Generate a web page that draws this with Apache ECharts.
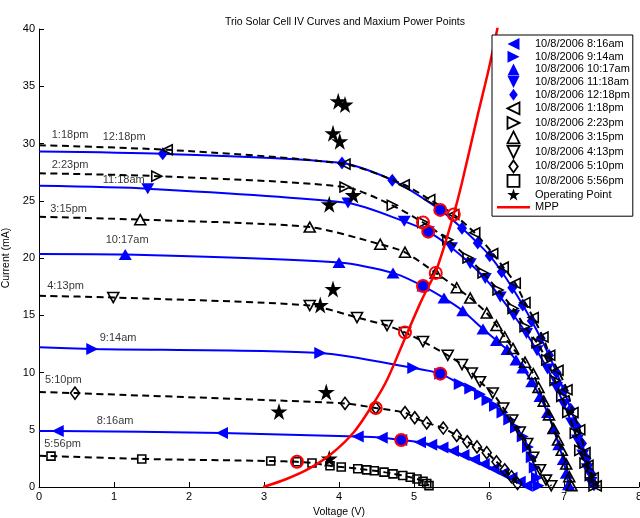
<!DOCTYPE html>
<html><head><meta charset="utf-8">
<script src="https://cdn.jsdelivr.net/npm/echarts@6/dist/echarts.min.js"></script>
<style>html,body{margin:0;padding:0;background:#fff}#c{width:640px;height:518px}</style>
</head><body><div id="c"></div>
<script>
// ---- data (Voltage V, Current mA) ----
const curve816am = [[0,4.9],[0.25,4.9],[2.44,4.72],[4.25,4.4],[4.57,4.3],[4.83,4.1],[5.08,3.9],[5.23,3.7],[5.38,3.45],[5.52,3.15],[5.66,2.8],[5.8,2.4],[5.93,2.0],[6.06,1.6],[6.18,1.2],[6.3,0.8],[6.41,0.45],[6.5,0.1]];
const curve914am = [[0,12.2],[0.71,12.05],[3.75,11.7],[4.99,10.4],[5.35,9.9],[5.61,9.0],[5.75,8.6],[5.88,8.1],[5.98,7.6],[6.08,7.1],[6.18,6.5],[6.27,5.9],[6.36,5.2],[6.45,4.4],[6.52,3.5],[6.57,2.6],[6.61,1.7],[6.64,0.8],[6.66,0.1]];
const curve1017am = [[0,20.35],[1.15,20.3],[4.0,19.6],[4.72,18.7],[5.12,17.55],[5.4,16.5],[5.65,15.4],[5.92,13.8],[6.1,12.8],[6.24,12.0],[6.36,11.1],[6.45,10.4],[6.57,9.2],[6.68,7.9],[6.78,6.5],[6.86,5.1],[6.93,3.7],[6.99,2.4],[7.03,1.2],[7.06,0.2]];
const curve1118am = [[0,26.3],[1.45,26.05],[4.12,24.8],[4.87,23.2],[5.19,22.3],[5.5,20.9],[5.75,19.5],[5.95,18.2],[6.15,16.6],[6.33,15.0],[6.5,13.4],[6.64,11.9],[6.78,10.3],[6.9,8.7],[7.0,7.2],[7.1,5.6],[7.18,4.1],[7.25,2.8],[7.31,1.6],[7.36,0.4]];
const curve1218pm = [[0,29.3],[1.65,29.1],[4.04,28.3],[4.71,26.8],[5.35,24.2],[5.64,22.6],[5.85,21.3],[6.01,20.2],[6.17,18.8],[6.31,17.4],[6.45,15.9],[6.57,14.5],[6.69,13.0],[6.8,11.5],[6.9,10.0],[7.0,8.4],[7.09,6.8],[7.17,5.3],[7.24,3.8],[7.3,2.5],[7.36,1.2],[7.4,0.2]];
const curve118pm = [[0,29.85],[1.71,29.45],[4.08,28.2],[4.87,26.4],[5.21,25.1],[5.53,23.8],[5.81,22.2],[6.05,20.4],[6.19,19.2],[6.35,17.8],[6.48,16.1],[6.59,14.8],[6.72,13.1],[6.81,11.5],[6.92,10.2],[7.04,8.5],[7.12,6.5],[7.21,5.0],[7.28,3.0],[7.32,1.9],[7.39,0.8],[7.43,0.1]];
const curve223pm = [[0,27.4],[1.57,27.15],[4.08,26.2],[4.71,24.6],[5.12,23.1],[5.45,21.6],[5.72,20.0],[5.92,18.7],[6.12,17.2],[6.32,15.6],[6.48,14.0],[6.64,12.6],[6.77,11.1],[6.88,9.3],[6.97,7.9],[7.05,6.5],[7.15,4.7],[7.21,3.2],[7.28,2.1],[7.35,1.0],[7.4,0.1]];
const curve315pm = [[0,23.6],[1.35,23.35],[3.61,22.7],[4.55,21.2],[4.88,20.5],[5.29,18.7],[5.57,17.4],[5.75,16.5],[5.97,15.2],[6.1,14.1],[6.21,13.1],[6.32,12.1],[6.48,10.9],[6.59,9.9],[6.66,8.7],[6.73,7.5],[6.8,6.3],[6.86,5.1],[6.92,4.1],[6.97,3.2],[7.03,2.0],[7.07,0.9],[7.1,0.1]];
const curve413pm = [[0,16.7],[0.99,16.55],[3.61,15.85],[4.24,14.8],[4.64,14.1],[4.88,13.5],[5.12,12.7],[5.45,11.5],[5.64,10.7],[5.77,9.95],[5.88,9.2],[6.05,8.2],[6.19,6.9],[6.31,5.85],[6.41,4.8],[6.51,3.8],[6.59,2.6],[6.68,1.5],[6.76,0.6],[6.83,0.1]];
const curve510pm = [[0,8.3],[0.48,8.2],[4.08,7.3],[4.49,6.9],[4.88,6.5],[5.01,6.05],[5.17,5.6],[5.39,5.15],[5.57,4.5],[5.71,3.95],[5.84,3.5],[5.97,3.0],[6.1,2.2],[6.21,1.5],[6.3,0.9],[6.38,0.3]];
const curve556pm = [[0,2.72],[0.16,2.7],[1.37,2.45],[3.09,2.27],[3.44,2.2],[3.64,2.1],[3.88,1.85],[4.03,1.75],[4.25,1.6],[4.37,1.5],[4.47,1.42],[4.6,1.3],[4.72,1.15],[4.85,1.0],[4.95,0.85],[5.04,0.7],[5.12,0.5],[5.17,0.3],[5.2,0.12]];

const seriesNames = ['10/8/2006 8:16am','10/8/2006 9:14am','10/8/2006 10:17am','10/8/2006 11:18am','10/8/2006 12:18pm','10/8/2006 1:18pm','10/8/2006 2:23pm','10/8/2006 3:15pm','10/8/2006 4:13pm','10/8/2006 5:10pm','10/8/2006 5:56pm'];
const curves = [curve816am, curve914am, curve1017am, curve1118am, curve1218pm, curve118pm, curve223pm, curve315pm, curve413pm, curve510pm, curve556pm];

// maximum power point of each curve (same order)
const mppV = [4.83, 5.35, 5.12, 5.19, 5.35, 5.53, 5.12, 5.29, 4.88, 4.49, 3.44];
const mppI = [4.1, 9.9, 17.55, 22.3, 24.2, 23.8, 23.1, 18.7, 13.5, 6.9, 2.2];

// operating points
const opV = [3.99, 4.08, 3.92, 4.01, 4.19, 3.87, 3.92, 3.75, 3.83, 3.2, 3.87];
const opI = [33.7, 33.4, 30.9, 30.2, 25.5, 24.7, 17.3, 15.9, 8.3, 6.6, 2.5];

// MPP locus
const mppCurveV = [2.99, 3.3, 3.6, 3.9, 4.2, 4.45, 4.64, 4.88, 5.1, 5.3, 5.52, 5.64, 5.85, 6.0, 6.12];
const mppCurveI = [0, 0.7, 1.6, 2.9, 4.8, 7.2, 9.35, 13.0, 16.3, 19.0, 23.6, 26.6, 32.5, 36.6, 40.3];

// curve annotations
const labelText = ['1:18pm','12:18pm','2:23pm','11:18am','3:15pm','10:17am','4:13pm','9:14am','5:10pm','8:16am','5:56pm'];
const labelV = [0.17, 0.85, 0.17, 0.85, 0.15, 0.89, 0.11, 0.81, 0.08, 0.77, 0.07];
const labelI = [30.74, 30.57, 28.1, 26.8, 24.3, 21.6, 17.55, 13.0, 9.35, 5.76, 3.75];

// ---- styling ----
const FONT = 'Liberation Sans, Arial, Helvetica, sans-serif';
const SYM = {
  left: 'path://M0,5L10,0L10,10Z',
  right: 'path://M10,5L0,0L0,10Z',
  up: 'path://M5,0L10,10L0,10Z',
  down: 'path://M0,0L10,0L5,10Z',
  diamond: 'path://M5,0L10,7L5,14L0,7Z',
  square: 'path://M0,0L10,0L10,10L0,10Z',
  star: 'path://M50,0L61,35L98,35L68,57L79,91L50,70L21,91L32,57L2,35L39,35Z'
};
const curveSym = ['left','right','up','down','diamond','left','right','up','down','diamond','square'];
const curveSize = [[12,12],[12,12],[13,11],[13,11],[10,13],[10,10],[10,10],[11,10],[11,10],[9,12],[8,8]];
const BLUE = '#0000ff';

const series = [];
curves.forEach((pts, k) => {
  const blue = k < 5;
  series.push({
    name: seriesNames[k], type: 'line', smooth: 0.25, showAllSymbol: true,
    data: pts.map(p => p[0] === 0 ? {value: p, symbol: 'none'} : p),
    symbol: SYM[curveSym[k]], symbolSize: curveSize[k],
    lineStyle: blue ? {color: BLUE, width: 2} : {color: '#000', width: 2, type: [7, 4.5]},
    itemStyle: blue ? {color: BLUE, borderWidth: 0, opacity: 1} : {color: 'rgba(255,255,255,0)', borderColor: '#000', borderWidth: 1.6, opacity: 1},
    emphasis: {disabled: true}, z: 2 + k * 0.01
  });
});
series.push({
  name: 'Operating Point', type: 'scatter', symbol: SYM.star, symbolSize: 17,
  data: opV.map((v, i) => [v, opI[i]]),
  itemStyle: {color: '#000', opacity: 1}, emphasis: {disabled: true}, z: 3
});
series.push({
  name: 'MPP', type: 'line', smooth: 0.3, symbol: 'none',
  data: mppCurveV.map((v, i) => [v, mppCurveI[i]]),
  lineStyle: {color: '#ff0000', width: 2.5}, itemStyle: {color: '#ff0000'},
  emphasis: {disabled: true}, z: 3.5
});
series.push({
  name: 'mppMarks', type: 'scatter', symbol: 'circle', symbolSize: 12,
  data: mppV.map((v, i) => ({value: [v, mppI[i]], itemStyle: {color: i < 5 ? BLUE : 'rgba(255,255,255,0)', borderColor: '#ff0000', borderWidth: 2, opacity: 1}})),
  itemStyle: {opacity: 1},
  emphasis: {disabled: true}, z: 3.8
});
series.push({
  name: 'curveLabels', type: 'scatter', symbolSize: 0,
  data: labelV.map((v, i) => ({name: labelText[i], value: [v, labelI[i]]})),
  label: {show: true, formatter: '{b}', position: 'right', distance: 0, color: '#000', fontSize: 11, fontFamily: FONT, align: 'left', verticalAlign: 'middle'},
  emphasis: {disabled: true}, z: 4
});

const legendData = seriesNames.map((n, k) => ({
  name: n, icon: SYM[curveSym[k]],
  itemStyle: k < 5 ? {color: BLUE, borderWidth: 0} : {color: 'rgba(255,255,255,0)', borderColor: '#000', borderWidth: 1.8}
}));
legendData.push({name: 'Operating Point', icon: SYM.star, itemStyle: {color: '#000', borderWidth: 0, opacity: 1}});
legendData.push({name: 'MPP', icon: 'path://M0,0L40,0L40,3L0,3Z', itemStyle: {color: '#ff0000', borderWidth: 0}});

const chart = echarts.init(document.getElementById('c'), null, {renderer: 'canvas'});
chart.setOption({
  animation: false,
  backgroundColor: '#fff',
  title: {text: 'Trio Solar Cell IV Curves and Maxium Power Points', left: 340, top: 12, textAlign: 'center',
    textStyle: {fontSize: 10.5, fontWeight: 'normal', color: '#000', fontFamily: FONT}},
  grid: {left: 39, right: 1, top: 29, bottom: 31, containLabel: false, outerBoundsMode: 'none'},
  legend: {
    orient: 'vertical', left: 492, top: 35, padding: [3, 3, 3, 5],
    itemWidth: 33, itemHeight: 12, itemGap: 0.7,
    borderColor: '#000', borderWidth: 1, backgroundColor: '#fff',
    textStyle: {fontSize: 11, color: '#000', fontFamily: FONT, lineHeight: 12},
    selectedMode: false, data: legendData, z: 10
  },
  xAxis: {
    type: 'value', min: 0, max: 8, interval: 1,
    name: 'Voltage (V)', nameLocation: 'middle', nameGap: 17,
    nameTextStyle: {fontSize: 10.5, color: '#000', fontFamily: FONT},
    axisLine: {onZero: false, lineStyle: {color: '#000', width: 1}},
    axisTick: {inside: true, length: 5, lineStyle: {color: '#000'}},
    axisLabel: {color: '#000', fontSize: 11, margin: 4, fontFamily: FONT},
    splitLine: {show: false}
  },
  yAxis: {
    type: 'value', min: 0, max: 40, interval: 5,
    name: 'Current (mA)', nameLocation: 'middle', nameGap: 17, nameRotate: 90,
    nameTextStyle: {fontSize: 10.5, color: '#000', fontFamily: FONT},
    axisLine: {show: true, onZero: false, lineStyle: {color: '#000', width: 1}},
    axisTick: {show: true, inside: true, length: 5, lineStyle: {color: '#000'}},
    axisLabel: {color: '#000', fontSize: 11, margin: 4, fontFamily: FONT},
    splitLine: {show: false}
  },
  series: series
});
</script></body></html>
